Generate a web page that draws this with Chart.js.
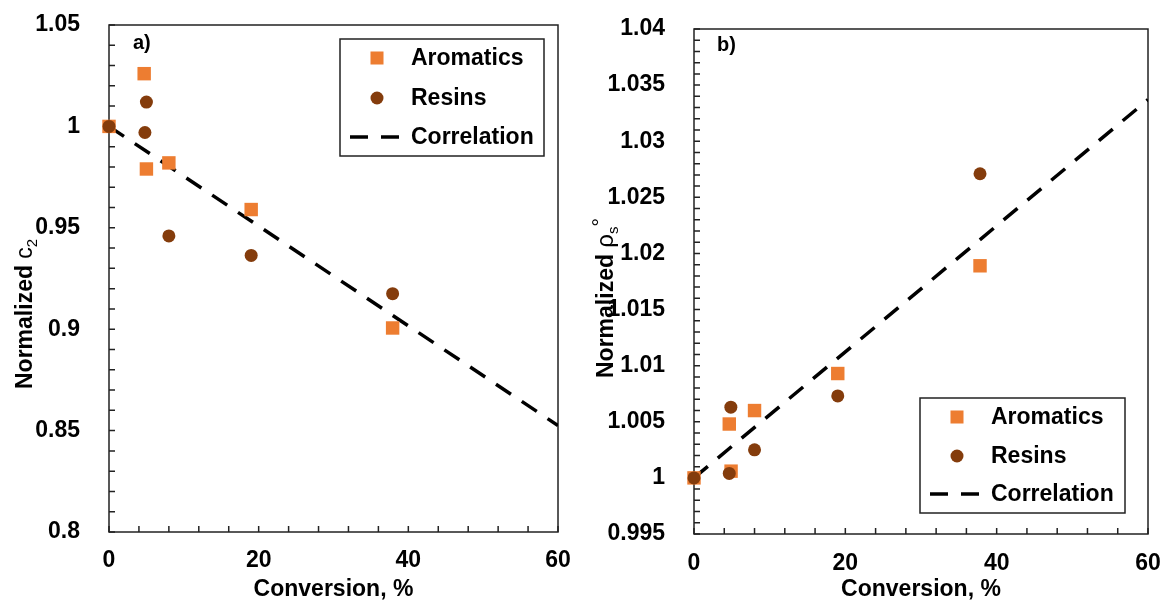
<!DOCTYPE html>
<html>
<head>
<meta charset="utf-8">
<script src="https://cdn.jsdelivr.net/npm/chart.js@4"></script>
<style>
  body { margin: 0; background: #fff; }
  canvas { position: absolute; top: 0; }
  #left { left: 0; }
  #right { left: 580px; }
</style>
</head>
<body>
<canvas id="left" width="580" height="603"></canvas>
<canvas id="right" width="583" height="603"></canvas>
<script>
// a) normalized c2
var aromX_a = [0, 4.7, 5, 8, 19, 37.9];
var aromY_a = [1.0, 1.026, 0.979, 0.982, 0.959, 0.9006];
var resX_a = [0, 5, 4.8, 8, 19, 37.9];
var resY_a = [1.0, 1.012, 0.997, 0.946, 0.9364, 0.9175];
var corrY_a = [1.0, 0.8525];
var yTicks_a = [0.8, 0.85, 0.9, 0.95, 1, 1.05];

// b) normalized rho_s
var aromX_b = [0, 4.66, 4.9, 8, 19, 37.8];
var aromY_b = [1.0, 1.0048, 1.0006, 1.006, 1.0093, 1.0189];
var resX_b = [0, 4.87, 4.66, 8, 19, 37.8];
var resY_b = [1.0, 1.0063, 1.0004, 1.0025, 1.0073, 1.0271];
var corrY_b = [1.0, 1.0337];
var yTicks_b = [0.995, 1, 1.005, 1.01, 1.015, 1.02, 1.025, 1.03, 1.035, 1.04];

var corrX = [0, 60];
var xTicks = [0, 20, 40, 60];

var FONT = "'Liberation Sans', Arial, sans-serif";
var ORANGE = '#ED7D31';
var BROWN = '#843C0C';

Chart.defaults.font.family = FONT;
Chart.defaults.color = '#000';

function toPoints(xs, ys) {
  let pts = [];
  for (let i = 0; i < xs.length; i++) {
    pts.push({ x: xs[i], y: ys[i] });
  }
  return pts;
}

// only the major values get a label, the rest are minor ticks
function tickLabel(list) {
  return function (value) {
    for (let i = 0; i < list.length; i++) {
      if (Math.abs(value - list[i]) < 1e-7) return String(list[i]);
    }
    return '';
  };
}

// box around the plot + inward ticks
var framePlugin = {
  id: 'frame',
  beforeDatasetsDraw(chart) {
    const ctx = chart.ctx;
    const a = chart.chartArea;
    const xs = chart.scales.x;
    const ys = chart.scales.y;
    ctx.save();
    ctx.strokeStyle = '#222';
    ctx.lineWidth = 1.5;
    ctx.strokeRect(a.left, a.top, a.right - a.left, a.bottom - a.top);
    ctx.beginPath();
    xs.ticks.forEach(function (t) {
      let p = xs.getPixelForValue(t.value);
      ctx.moveTo(p, a.bottom);
      ctx.lineTo(p, a.bottom - 6);
    });
    ys.ticks.forEach(function (t) {
      let p = ys.getPixelForValue(t.value);
      ctx.moveTo(a.left, p);
      ctx.lineTo(a.left + 6, p);
    });
    ctx.stroke();
    ctx.restore();
  }
};

// legend drawn inside the plot, panel letter, y title with sub/superscripts
var extrasPlugin = {
  id: 'extras',
  afterDraw(chart, args, opts) {
    const ctx = chart.ctx;
    const lg = opts.legend;
    ctx.save();

    ctx.fillStyle = '#fff';
    ctx.fillRect(lg.x, lg.y, lg.w, lg.h);
    ctx.strokeStyle = '#222';
    ctx.lineWidth = 1.5;
    ctx.strokeRect(lg.x, lg.y, lg.w, lg.h);

    ctx.font = 'bold 23px ' + FONT;
    ctx.textBaseline = 'middle';
    chart.data.datasets.forEach(function (ds, i) {
      let y = lg.rows[i];
      if (ds.pointStyle == 'rect') {
        ctx.fillStyle = ds.backgroundColor;
        ctx.fillRect(lg.markX - 6.5, y - 6.5, 13, 13);
      } else if (ds.pointStyle == 'circle') {
        ctx.fillStyle = ds.backgroundColor;
        ctx.beginPath();
        ctx.arc(lg.markX, y, 6.5, 0, Math.PI * 2);
        ctx.fill();
      } else {
        ctx.strokeStyle = '#000';
        ctx.lineWidth = 3.5;
        ctx.setLineDash([18, 13]);
        ctx.beginPath();
        ctx.moveTo(lg.markX - 27, y);
        ctx.lineTo(lg.markX + 23, y);
        ctx.stroke();
        ctx.setLineDash([]);
      }
      ctx.fillStyle = '#000';
      ctx.fillText(ds.label, lg.textX, y + 1);
    });

    ctx.font = 'bold 20px ' + FONT;
    ctx.fillText(opts.panel.text, opts.panel.x, opts.panel.y);

    // rotated y axis title, drawn upward from its bottom end
    const yt = opts.yTitle;
    ctx.translate(yt.x, yt.y);
    ctx.rotate(-Math.PI / 2);
    ctx.textBaseline = 'alphabetic';
    let pos = 0;
    yt.parts.forEach(function (p) {
      ctx.font = p.font + ' ' + FONT;
      ctx.fillText(p.text, pos, 8 + (p.dy || 0));
      pos += ctx.measureText(p.text).width;
    });
    ctx.restore();
  }
};

function makeChart(id, d) {
  return new Chart(document.getElementById(id), {
    type: 'scatter',
    data: {
      datasets: [
        {
          label: 'Aromatics',
          data: toPoints(d.aromX, d.aromY),
          pointStyle: 'rect',
          pointRadius: 9.5,
          backgroundColor: ORANGE,
          borderColor: ORANGE,
          borderWidth: 0,
          clip: false,
          order: 1
        },
        {
          label: 'Resins',
          data: toPoints(d.resX, d.resY),
          pointStyle: 'circle',
          pointRadius: 6.5,
          backgroundColor: BROWN,
          borderColor: BROWN,
          borderWidth: 0,
          clip: false,
          order: 0
        },
        {
          type: 'line',
          label: 'Correlation',
          data: toPoints(corrX, d.corrY),
          borderColor: '#000',
          borderWidth: 3.5,
          borderDash: [18, 13],
          borderCapStyle: 'butt',
          pointRadius: 0,
          fill: false,
          order: 2
        }
      ]
    },
    options: {
      responsive: false,
      animation: false,
      devicePixelRatio: 1,
      layout: { padding: { left: 0, right: d.padRight, top: d.padTop, bottom: 0 } },
      scales: {
        x: {
          type: 'linear',
          min: 0,
          max: 60,
          grid: { display: false },
          border: { display: false },
          ticks: {
            stepSize: 4,
            autoSkip: false,
            maxRotation: 0,
            padding: d.xPad,
            font: { size: 23, weight: 'bold' },
            callback: tickLabel(xTicks)
          },
          title: {
            display: true,
            text: 'Conversion, %',
            font: { size: 23, weight: 'bold' },
            padding: { top: 0, bottom: 0 }
          },
          afterFit: function (s) {
            s.height = d.xHeight;
            s.paddingLeft = 0;
            s.paddingRight = 0;
          }
        },
        y: {
          min: d.yMin,
          max: d.yMax,
          grid: { display: false },
          border: { display: false },
          ticks: {
            stepSize: d.yStep,
            autoSkip: false,
            padding: 21,
            font: { size: 23, weight: 'bold' },
            callback: tickLabel(d.yTicks)
          },
          afterFit: function (s) {
            s.width = d.yWidth;
            s.paddingTop = 0;
            s.paddingBottom = 0;
          }
        }
      },
      plugins: {
        legend: { display: false },
        tooltip: { enabled: false },
        extras: {
          legend: d.legend,
          panel: d.panel,
          yTitle: d.yTitle
        }
      }
    },
    plugins: [framePlugin, extrasPlugin]
  });
}

makeChart('left', {
  aromX: aromX_a, aromY: aromY_a, resX: resX_a, resY: resY_a, corrY: corrY_a,
  yMin: 0.8, yMax: 1.05, yStep: 0.01, yTicks: yTicks_a,
  padRight: 22, padTop: 25, xHeight: 71, yWidth: 109, xPad: 7,
  legend: { x: 340, y: 39, w: 204, h: 117, markX: 377, textX: 411, rows: [58, 98, 137] },
  panel: { text: 'a)', x: 133, y: 43 },
  yTitle: {
    x: 24, y: 389,
    parts: [
      { text: 'Normalized ', font: 'bold 23px' },
      { text: 'c', font: '23px' },
      { text: '2', font: '15px', dy: 5 }
    ]
  }
});

makeChart('right', {
  aromX: aromX_b, aromY: aromY_b, resX: resX_b, resY: resY_b, corrY: corrY_b,
  yMin: 0.995, yMax: 1.04, yStep: 0.001, yTicks: yTicks_b,
  padRight: 15, padTop: 29, xHeight: 69, yWidth: 114, xPad: 8,
  legend: { x: 340, y: 398, w: 205, h: 115, markX: 377, textX: 411, rows: [417, 456, 494] },
  panel: { text: 'b)', x: 137, y: 45 },
  yTitle: {
    x: 25, y: 378,
    parts: [
      { text: 'Normalized ', font: 'bold 23px' },
      { text: 'ρ', font: '24px' },
      { text: 's', font: '15px', dy: 5 },
      { text: '°', font: '21px', dy: -6 }
    ]
  }
});
</script>
</body>
</html>
